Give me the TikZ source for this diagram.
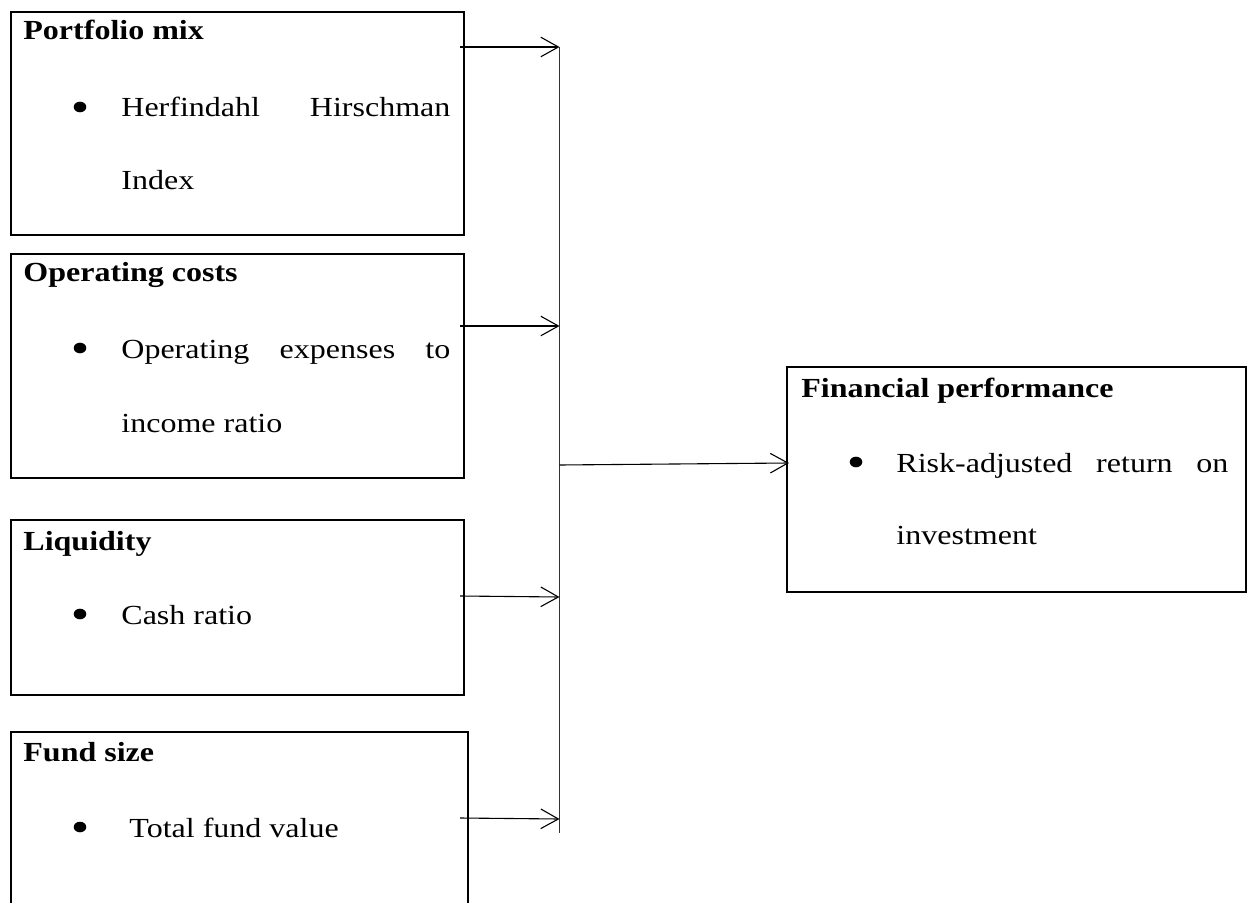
\documentclass[tikz,border=0pt]{standalone}
\usepackage{fontspec}
\setmainfont{Liberation Serif}[FakeStretch=1.16]
\usetikzlibrary{arrows.meta,shapes.geometric}
\begin{document}
\begin{tikzpicture}[x=0.5pt,y=-0.5pt,
  box/.style={draw, line width=0.85pt, anchor=north west, inner sep=0pt},
  hdr/.style={anchor=base west, inner sep=0pt, font=\fontsize{13.8}{16}\selectfont\bfseries},
  txt/.style={anchor=base west, inner sep=0pt, font=\fontsize{13.8}{16}\selectfont},
  dot/.style={ellipse, fill=black, draw=none, inner sep=0pt, minimum width=6.3pt, minimum height=5.3pt},
  conn/.style={line width=0.55pt, -{Straight Barb[length=8.8pt,width=9.8pt]}},
  bus/.style={line width=0.55pt, draw=black!80}]
\useasboundingbox (0,0) rectangle (1251,903);
\clip (0,0) rectangle (1251,903);
% boxes
\node[box, minimum width=226.5pt, minimum height=111.5pt] (b1) at (10,11) {};
\node[box, minimum width=226.5pt, minimum height=112pt] (b2) at (10,253) {};
\node[box, minimum width=226.5pt, minimum height=87.5pt] (b3) at (10,519) {};
\node[box, minimum width=228.5pt, minimum height=90pt] (b4) at (10,731) {};
\node[box, minimum width=229.5pt, minimum height=112.5pt] (b5) at (786,366) {};
% box 1
\node[hdr] (h1) at (23,40) {Portfolio mix};
\node[dot] (d1) at (80,107) {};
\node[txt] (t1a) at (121,117) {\makebox[164.5pt][l]{Herfindahl\hfill Hirschman}};
\node[txt] (t1b) at (121,190) {Index};
% box 2
\node[hdr] (h2) at (23,282) {Operating costs};
\node[dot] (d2) at (80,348) {};
\node[txt] (t2a) at (121,358) {\makebox[164.5pt][l]{Operating\hfill expenses\hfill to}};
\node[txt] (t2b) at (121,432) {income ratio};
% box 3
\node[hdr] (h3) at (23,550) {Liquidity};
\node[dot] (d3) at (80,614) {};
\node[txt] (t3) at (121,624) {Cash ratio};
% box 4
\node[hdr] (h4) at (23,761) {Fund size};
\node[dot] (d4) at (80,827) {};
\node[txt] (t4) at (129,837) {Total fund value};
% output box
\node[hdr] (h5) at (801,397) {Financial performance};
\node[dot] (d5) at (856,462) {};
\node[txt] (t5a) at (896,472) {\makebox[166pt][l]{Risk-adjusted\hfill return\hfill on}};
\node[txt] (t5b) at (896,544) {investment};
% connector points
\coordinate (a1) at (460,47);
\coordinate (a2) at (460,326);
\coordinate (a3) at (460,596);
\coordinate (a4) at (460,818);
\coordinate (p1) at (559.5,47);
\coordinate (p2) at (559.5,326);
\coordinate (p3) at (559.5,597);
\coordinate (p4) at (559.5,819);
\coordinate (pb) at (559.5,833);
\coordinate (pm) at (559.5,465);
\coordinate (q) at (789,463);
\draw[bus] (p1) -- (pb);
\draw[conn] (a1) -- (p1);
\draw[conn] (a2) -- (p2);
\draw[conn] (a3) -- (p3);
\draw[conn] (a4) -- (p4);
\draw[conn] (pm) -- (q);
\end{tikzpicture}
\end{document}
